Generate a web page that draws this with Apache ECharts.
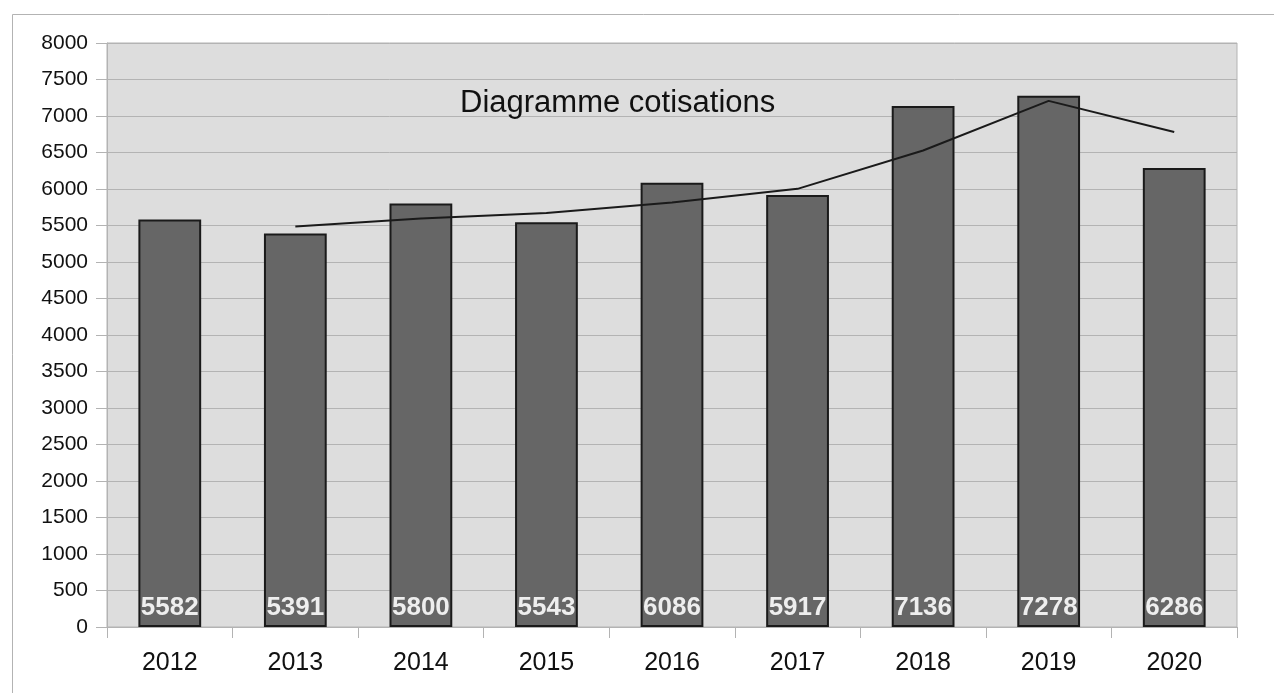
<!DOCTYPE html>
<html>
<head>
<meta charset="utf-8">
<script src="https://cdn.jsdelivr.net/npm/echarts@6/dist/echarts.min.js"></script>
<style>html,body{margin:0;padding:0;background:#fff}#c{width:1274px;height:693px}</style>
</head>
<body>
<div id="c"></div>
<script>
var categories = ['2012','2013','2014','2015','2016','2017','2018','2019','2020'];
var cotisations = [5582,5391,5800,5543,6086,5917,7136,7278,6286];
var trend = [null,5487,5596,5672,5815,6002,6527,7207,6782];
var titleText = 'Diagramme cotisations';

var chart = echarts.init(document.getElementById('c'));
chart.setOption({
  animation: false,
  backgroundColor: '#ffffff',
  graphic: [{
    type: 'rect', left: 10, top: 12, z: -10,
    shape: {width: 1300, height: 720},
    style: {fill: 'none', stroke: '#b3b3b3', lineWidth: 1}
  }],
  title: {
    text: titleText, left: 455, top: 83,
    textStyle: {fontFamily: 'Liberation Sans', fontSize: 31, fontWeight: 'normal', color: '#111'}
  },
  grid: {left: 107, right: 37, top: 43, bottom: 66, show: true, backgroundColor: '#dddddd', borderColor: '#b3b3b3', borderWidth: 1},
  xAxis: {
    type: 'category', data: categories,
    axisLine: {lineStyle: {color: '#b3b3b3'}},
    axisTick: {show: true, length: 11, lineStyle: {color: '#b3b3b3'}},
    axisLabel: {fontFamily: 'Liberation Sans', fontSize: 25, color: '#111', margin: 24}
  },
  yAxis: {
    type: 'value', min: 0, max: 8000, interval: 500,
    axisLine: {show: true, lineStyle: {color: '#b3b3b3'}},
    axisTick: {show: true, length: 11, lineStyle: {color: '#b3b3b3'}},
    splitLine: {lineStyle: {color: '#b3b3b3'}},
    axisLabel: {fontFamily: 'Liberation Sans', fontSize: 21, color: '#111', margin: 19, formatter: function (v) { return String(v); }}
  },
  series: [{
    type: 'bar', data: cotisations, barWidth: '50%',
    itemStyle: {color: '#666666', borderColor: '#1a1a1a', borderWidth: 2},
    label: {show: true, position: 'insideBottom', distance: 6, color: '#eeeeee', fontFamily: 'Liberation Sans', fontWeight: 'bold', fontSize: 26}
  }, {
    type: 'line', data: trend, showSymbol: false, symbol: 'none',
    lineStyle: {color: '#1a1a1a', width: 2}, z: 5
  }]
});
</script>
</body>
</html>
